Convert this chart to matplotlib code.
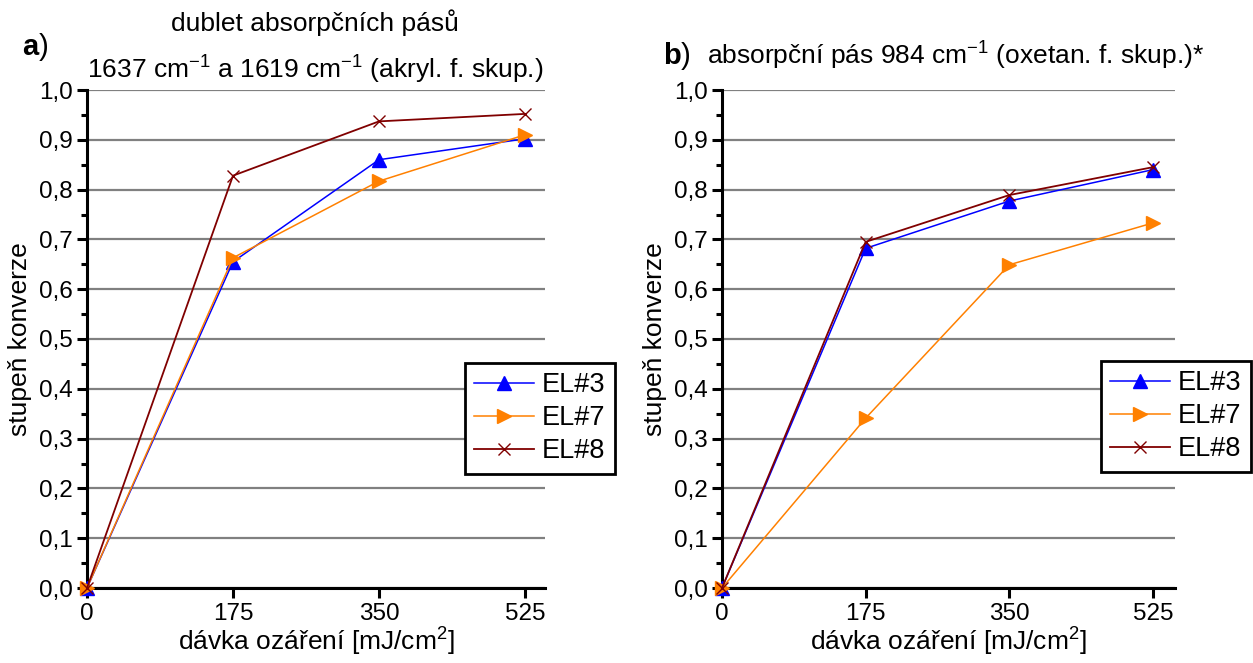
import matplotlib
matplotlib.use('Agg')
import matplotlib.pyplot as plt
from matplotlib.ticker import MultipleLocator, FuncFormatter

plt.rcParams['font.family'] = ['Liberation Sans', 'DejaVu Sans']
plt.rcParams['mathtext.fontset'] = 'custom'
plt.rcParams['mathtext.rm'] = 'Liberation Sans'
plt.rcParams['mathtext.it'] = 'Liberation Sans'
plt.rcParams['mathtext.bf'] = 'Liberation Sans:bold'

dose = [0, 175, 350, 525]
labels = ['EL#3', 'EL#7', 'EL#8']

# panel a) - acrylic groups
a_el3 = [0.0, 0.655, 0.860, 0.902]
a_el7 = [0.0, 0.663, 0.817, 0.910]
a_el8 = [0.0, 0.828, 0.937, 0.952]

# panel b) - oxetane groups
b_el3 = [0.0, 0.682, 0.777, 0.840]
b_el7 = [0.0, 0.341, 0.649, 0.733]
b_el8 = [0.0, 0.695, 0.789, 0.845]

styles = [
    dict(color='#0000FF', marker='^', markersize=10, lw=1.1),
    dict(color='#FF8000', marker='>', markersize=10, lw=1.1),
    dict(color='#800000', marker='x', markersize=8, lw=1.3, mew=1.0),
]

fs_tick = 17.5
fs_lab = 19
fs_title = 19
fs_leg = 19.5

fig = plt.figure(figsize=(12.53, 6.63), dpi=100)
ax1 = fig.add_axes([87 / 1253, 1 - 588 / 663, 458 / 1253, 498 / 663])
ax2 = fig.add_axes([722 / 1253, 1 - 588 / 663, 453 / 1253, 498 / 663])


def setup(ax, xmax):
    ax.set_xlim(0, xmax)
    ax.set_ylim(0, 1.0)
    ax.set_xticks(dose)
    ax.yaxis.set_major_locator(MultipleLocator(0.1))
    ax.yaxis.set_minor_locator(MultipleLocator(0.05))
    ax.yaxis.set_major_formatter(FuncFormatter(lambda v, p: f'{v:.1f}'.replace('.', ',')))
    ax.grid(axis='y', color='#808080', lw=1.6)
    ax.set_axisbelow(True)
    for s in ['top', 'right']:
        ax.spines[s].set_visible(False)
    for s in ['left', 'bottom']:
        ax.spines[s].set_linewidth(2.2)
    ax.tick_params(which='major', length=7, width=2.2, labelsize=fs_tick)
    ax.tick_params(which='minor', length=4, width=2.2)
    ax.set_xlabel('dávka ozáření [mJ/cm$^2$]', fontsize=fs_lab, labelpad=1)
    ax.set_ylabel('stupeň konverze', fontsize=fs_lab, labelpad=5)


for ax, series, xmax, leg_xy in [
    (ax1, [a_el3, a_el7, a_el8], 549, (465 / 1253, 1 - 363 / 663)),
    (ax2, [b_el3, b_el7, b_el8], 552, (1101 / 1253, 1 - 361 / 663)),
]:
    for ys, lab, st in zip(series, labels, styles):
        ax.plot(dose, ys, label=lab, clip_on=False, zorder=3, **st)
    setup(ax, xmax)
    leg = ax.legend(loc='upper left', bbox_to_anchor=leg_xy, bbox_transform=fig.transFigure,
                    fontsize=fs_leg, frameon=True, fancybox=False, edgecolor='black',
                    framealpha=1, handlelength=2.2, borderpad=0.35, labelspacing=0.25,
                    handletextpad=0.3, borderaxespad=0)
    leg.get_frame().set_linewidth(2.0)

fig.text(22 / 1253, 1 - 47 / 663, r'$\mathbf{a}$)', fontsize=fs_title + 2, va='center', ha='left')
fig.text(315 / 1253, 1 - 23 / 663, 'dublet absorpčních pásů', fontsize=fs_title, va='center', ha='center')
fig.text(315 / 1253, 1 - 70 / 663, '1637 cm$^{-1}$ a 1619 cm$^{-1}$ (akryl. f. skup.)',
         fontsize=fs_title, va='center', ha='center')
fig.text(663 / 1253, 1 - 56 / 663, r'$\mathbf{b}$)', fontsize=fs_title + 2, va='center', ha='left')
fig.text(707 / 1253, 1 - 56 / 663, 'absorpční pás 984 cm$^{-1}$ (oxetan. f. skup.)*',
         fontsize=fs_title, va='center', ha='left')

fig.savefig('out.png', dpi=100)
